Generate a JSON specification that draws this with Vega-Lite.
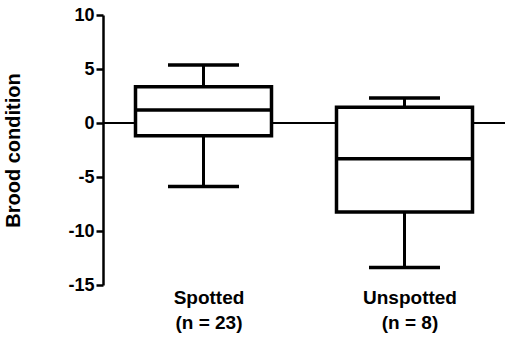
{
  "$schema": "https://vega.github.io/schema/vega-lite/v6.json",
  "width": 402,
  "height": 270,
  "autosize": "none",
  "padding": {"left": 103, "top": 15, "right": 1, "bottom": 54},
  "config": {"view": {"stroke": null}, "font": "Liberation Sans", "background": "white"},
  "data": {
    "values": [
      {"group": "Spotted", "lower": -5.88, "q1": -1.17, "median": 1.2, "q3": 3.35, "upper": 5.38},
      {"group": "Unspotted", "lower": -13.38, "q1": -8.24, "median": -3.32, "q3": 1.45, "upper": 2.31}
    ]
  },
  "layer": [
    {
      "data": {"values": [{"zero": 0}]},
      "mark": {"type": "rule", "color": "black", "strokeWidth": 2},
      "encoding": {
        "y": {"field": "zero", "type": "quantitative", "scale": {"domain": [-15, 10], "nice": false, "zero": false}}
      }
    },
    {
      "mark": {"type": "rule", "color": "black", "strokeWidth": 3},
      "encoding": {
        "x": {"field": "group", "type": "nominal", "sort": null, "scale": {"type": "point", "padding": 0.5},
          "axis": {"title": null, "domain": false, "ticks": false, "labelAngle": 0, "labelFontSize": 19, "labelFontWeight": "bold", "labelColor": "black", "labelPadding": 3, "labelLineHeight": 25, "labelBaseline": "top", "labelAlign": "center", "labelOffset": 5,
            "labelExpr": "datum.value == 'Spotted' ? ['Spotted', '(n = 23)'] : ['Unspotted', '(n = 8)']"}},
        "y": {"field": "lower", "type": "quantitative", "scale": {"domain": [-15, 10], "nice": false, "zero": false},
          "axis": {"title": "Brood condition", "values": [-15, -10, -5, 0, 5, 10], "grid": false, "domainColor": "black", "domainWidth": 2.5, "tickColor": "black", "tickWidth": 2.5, "tickSize": 7, "labelPadding": 2, "labelFontSize": 18, "labelFontWeight": "bold", "labelColor": "black", "labelExpr": "toString(datum.value)", "titleFontSize": 20, "titleFontWeight": "bold", "titleColor": "black", "titlePadding": 44}},
        "y2": {"field": "upper"}
      }
    },
    {
      "mark": {"type": "bar", "fill": "white", "stroke": "black", "strokeWidth": 3.5, "size": 136},
      "encoding": {
        "x": {"field": "group", "type": "nominal", "sort": null},
        "y": {"field": "q1", "type": "quantitative"},
        "y2": {"field": "q3"}
      }
    },
    {
      "mark": {"type": "tick", "color": "black", "size": 136, "thickness": 3.5, "opacity": 1},
      "encoding": {
        "x": {"field": "group", "type": "nominal", "sort": null},
        "y": {"field": "median", "type": "quantitative"}
      }
    },
    {
      "mark": {"type": "tick", "color": "black", "size": 71, "thickness": 3.5, "opacity": 1},
      "encoding": {
        "x": {"field": "group", "type": "nominal", "sort": null},
        "y": {"field": "lower", "type": "quantitative"}
      }
    },
    {
      "mark": {"type": "tick", "color": "black", "size": 71, "thickness": 3.5, "opacity": 1},
      "encoding": {
        "x": {"field": "group", "type": "nominal", "sort": null},
        "y": {"field": "upper", "type": "quantitative"}
      }
    }
  ]
}
